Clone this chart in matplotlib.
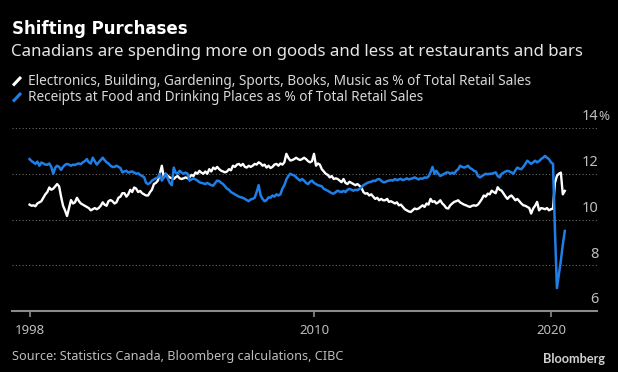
import matplotlib
matplotlib.use("Agg")
import matplotlib.pyplot as plt
from matplotlib.lines import Line2D
import pandas as pd

# monthly series, Jan 1998 .. Aug 2020 (% of total retail sales)
goods_share = [
    10.65, 10.6, 10.62, 10.58, 10.7, 10.75, 10.8, 10.95, 11.1, 11.2, 11.4, 11.3,  # 1998
    11.35, 11.45, 11.55, 11.45, 11.0, 10.6, 10.4, 10.15, 10.5, 10.85, 10.7, 10.75,  # 1999
    10.95, 10.8, 10.7, 10.65, 10.6, 10.55, 10.5, 10.4, 10.45, 10.5, 10.45, 10.5,  # 2000
    10.6, 10.75, 10.65, 10.6, 10.8, 10.85, 10.8, 10.7, 10.75, 10.95, 11.0, 11.15,  # 2001
    11.15, 11.0, 11.1, 11.3, 11.2, 11.4, 11.35, 11.2, 11.25, 11.15, 11.1, 11.05,  # 2002
    11.05, 11.2, 11.3, 11.55, 11.6, 11.7, 12.0, 12.35, 11.84, 12.0, 11.9, 11.84,  # 2003
    11.8, 11.77, 11.85, 11.9, 11.8, 11.77, 11.8, 11.84, 11.8, 11.85, 11.95, 11.9,  # 2004
    12.06, 12.0, 12.13, 12.05, 12.0, 12.1, 12.0, 12.2, 12.1, 12.27, 12.2, 12.3,  # 2005
    12.2, 12.13, 12.1, 12.06, 12.1, 12.2, 12.15, 12.35, 12.3, 12.4, 12.43, 12.35,  # 2006
    12.43, 12.3, 12.27, 12.35, 12.3, 12.35, 12.43, 12.4, 12.5, 12.45, 12.35, 12.4,  # 2007
    12.27, 12.35, 12.25, 12.3, 12.4, 12.43, 12.35, 12.45, 12.4, 12.5, 12.87, 12.7,  # 2008
    12.58, 12.6, 12.64, 12.7, 12.64, 12.6, 12.64, 12.7, 12.64, 12.55, 12.5, 12.55,  # 2009
    12.87, 12.35, 12.45, 12.4, 12.2, 12.1, 12.0, 11.95, 11.84, 11.9, 11.77, 11.8,  # 2010
    11.77, 11.7, 11.63, 11.77, 11.6, 11.55, 11.65, 11.6, 11.55, 11.5, 11.55, 11.48,  # 2011
    11.4, 11.2, 11.13, 11.15, 11.05, 11.1, 11.0, 10.9, 10.95, 10.84, 10.9, 10.84,  # 2012
    10.84, 10.9, 10.77, 10.8, 10.75, 10.7, 10.75, 10.62, 10.65, 10.55, 10.45, 10.4,  # 2013
    10.35, 10.33, 10.4, 10.48, 10.45, 10.48, 10.55, 10.62, 10.55, 10.7, 10.65, 10.9,  # 2014
    10.77, 10.8, 10.7, 10.75, 10.84, 10.7, 10.62, 10.5, 10.48, 10.62, 10.7, 10.77,  # 2015
    10.8, 10.84, 10.75, 10.7, 10.65, 10.62, 10.58, 10.55, 10.6, 10.62, 10.6, 10.65,  # 2016
    10.77, 10.9, 11.05, 11.0, 11.13, 11.1, 11.26, 11.2, 11.15, 11.41, 11.3, 11.26,  # 2017
    11.13, 11.0, 10.9, 11.0, 11.05, 10.95, 10.84, 10.9, 10.8, 10.7, 10.62, 10.6,  # 2018
    10.55, 10.5, 10.26, 10.48, 10.6, 10.77, 10.4, 10.5, 10.48, 10.45, 10.5, 10.4,  # 2019
    10.45, 10.48, 11.6, 11.9, 12.0, 12.05, 11.1, 11.25,  # 2020
]

food_share = [
    12.64, 12.55, 12.5, 12.43, 12.53, 12.35, 12.49, 12.45, 12.4, 12.39, 12.45, 12.3,  # 1998
    12.0, 12.27, 12.35, 12.3, 12.17, 12.3, 12.39, 12.43, 12.4, 12.35, 12.4, 12.38,  # 1999
    12.43, 12.45, 12.42, 12.5, 12.55, 12.64, 12.5, 12.45, 12.7, 12.55, 12.4, 12.5,  # 2000
    12.6, 12.7, 12.6, 12.5, 12.45, 12.35, 12.3, 12.3, 12.35, 12.3, 12.25, 12.06,  # 2001
    12.1, 12.13, 12.05, 12.08, 12.1, 12.05, 12.0, 12.02, 11.95, 11.9, 11.85, 11.6,  # 2002
    11.55, 11.6, 11.7, 11.75, 11.8, 11.84, 12.0, 11.7, 11.85, 12.0, 11.8, 11.6,  # 2003
    11.5, 12.27, 12.05, 12.0, 12.13, 12.05, 12.0, 12.05, 12.0, 11.7, 11.75, 11.8,  # 2004
    11.75, 11.7, 11.63, 11.6, 11.58, 11.55, 11.6, 11.55, 11.5, 11.48, 11.6, 11.7,  # 2005
    11.68, 11.6, 11.55, 11.45, 11.35, 11.3, 11.2, 11.15, 11.1, 11.05, 11.0, 10.97,  # 2006
    10.95, 10.9, 10.85, 10.8, 10.88, 10.9, 10.95, 11.2, 11.5, 11.05, 10.9, 10.8,  # 2007
    10.85, 10.97, 10.95, 11.05, 11.0, 11.1, 11.05, 11.1, 11.35, 11.5, 11.75, 11.9,  # 2008
    12.0, 11.95, 11.93, 11.85, 11.77, 11.7, 11.77, 11.7, 11.6, 11.55, 11.65, 11.7,  # 2009
    11.6, 11.55, 11.5, 11.48, 11.45, 11.34, 11.3, 11.26, 11.2, 11.15, 11.13, 11.2,  # 2010
    11.26, 11.22, 11.2, 11.25, 11.2, 11.3, 11.34, 11.3, 11.26, 11.3, 11.28, 11.34,  # 2011
    11.4, 11.5, 11.55, 11.6, 11.63, 11.65, 11.7, 11.68, 11.75, 11.77, 11.7, 11.63,  # 2012
    11.63, 11.68, 11.7, 11.72, 11.7, 11.77, 11.72, 11.75, 11.78, 11.72, 11.75, 11.8,  # 2013
    11.75, 11.78, 11.8, 11.84, 11.8, 11.75, 11.8, 11.78, 11.84, 11.82, 11.88, 12.06,  # 2014
    12.3, 12.0, 12.13, 12.0, 11.9, 11.95, 12.0, 12.05, 12.06, 12.0, 12.05, 12.0,  # 2015
    12.13, 12.2, 12.35, 12.3, 12.27, 12.3, 12.35, 12.25, 12.2, 12.13, 12.1, 11.9,  # 2016
    11.84, 11.9, 11.95, 12.0, 11.98, 12.0, 12.0, 12.03, 12.06, 11.9, 11.84, 12.0,  # 2017
    12.05, 12.1, 12.13, 12.1, 12.06, 12.0, 12.15, 12.27, 12.22, 12.2, 12.3, 12.43,  # 2018
    12.57, 12.5, 12.43, 12.5, 12.57, 12.5, 12.55, 12.64, 12.7, 12.78, 12.7, 12.64,  # 2019
    12.5, 12.43, 9.6, 7.0, 7.6, 8.2, 8.9, 9.5,  # 2020
]

dates = pd.date_range("1998-01-01", periods=len(goods_share), freq="MS")

y_ticks = [6, 8, 10, 12, 14]
x_ticks = ["1998", "2010", "2020"]

title = "Shifting Purchases"
subtitle = "Canadians are spending more on goods and less at restaurants and bars"
legend_labels = [
    "Electronics, Building, Gardening, Sports, Books, Music as % of Total Retail Sales",
    "Receipts at Food and Drinking Places as % of Total Retail Sales",
]
source = "Source: Statistics Canada, Bloomberg calculations, CIBC"

WHITE = "#ffffff"
BLUE = "#1f7fe6"
BG = "#000000"

plt.rcParams["font.family"] = ["Noto Sans", "DejaVu Sans"]

W, H = 618, 372
fig = plt.figure(figsize=(W / 100, H / 100), dpi=100, facecolor=BG)
ax = fig.add_axes([12 / W, 1 - 311 / H, (597 - 12) / W, (311 - 128) / H])
ax.set_facecolor(BG)

ax.plot(dates, goods_share, color=WHITE, lw=1.7, solid_joinstyle="round")
ax.plot(dates, food_share, color=BLUE, lw=1.8, solid_joinstyle="round")

ax.set_ylim(6, 14)
ax.set_xlim(pd.Timestamp("1997-04-05"), pd.Timestamp("2021-12-10"))

# dotted gridlines, solid base line
for v in y_ticks[1:]:
    ax.axhline(v, color="#6a6a6a", lw=0.8, ls=(0, (1, 2)), zorder=0)
for s in ["top", "right", "left"]:
    ax.spines[s].set_visible(False)
ax.spines["bottom"].set_color("#8a8a8a")
ax.spines["bottom"].set_linewidth(1.5)

ax.set_yticks([])
ax.set_xticks([pd.Timestamp(f"{y}-01-01") for y in x_ticks])
ax.set_xticklabels(x_ticks)
ax.tick_params(axis="x", colors="#8a8a8a", length=4, width=1.2, pad=5,
               labelsize=9.5, labelcolor="#bdbdbd")

# y labels above gridlines, right aligned
ytrans = ax.get_yaxis_transform()
for v in y_ticks:
    ax.annotate(str(v), xy=(1.0, v), xycoords=ytrans, xytext=(1, 5.5),
                textcoords="offset points", ha="right", va="baseline",
                color="#bdbdbd", fontsize=10.5, annotation_clip=False)
ax.annotate("%", xy=(1.0, y_ticks[-1]), xycoords=ytrans, xytext=(1.2, 5.5),
            textcoords="offset points", ha="left", va="baseline",
            color="#bdbdbd", fontsize=9.5, annotation_clip=False)

# header
fig.text(12 / W, 1 - 34 / H, title, color=WHITE, fontsize=12,
         fontweight="bold", family="DejaVu Sans", va="baseline")
fig.text(11 / W, 1 - 56 / H, subtitle, color="#e6e6e6", fontsize=12.1,
         va="baseline")

for i, (lab, col) in enumerate(zip(legend_labels, [WHITE, BLUE])):
    base = 85 + i * 16
    fig.add_artist(Line2D([13 / W, 21 / W], [1 - (base + 0.5) / H, 1 - (base - 8) / H],
                          color=col, lw=2.2, solid_capstyle="butt"))
    fig.text(28 / W, 1 - base / H, lab, color="#d9d9d9", fontsize=9.8,
             va="baseline")

# footer
fig.text(12 / W, 1 - 360 / H, source, color="#bdbdbd", fontsize=9.1,
         va="baseline")
fig.text(605 / W, 1 - 363 / H, "Bloomberg", color="#d0d0d0", fontsize=9.2,
         fontweight="bold", family="Lato", ha="right", va="baseline")

fig.savefig("out.png", dpi=100, facecolor=BG)
